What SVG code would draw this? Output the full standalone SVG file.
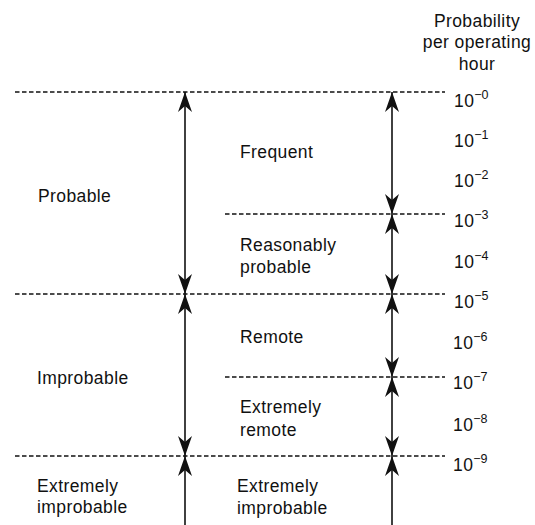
<svg xmlns="http://www.w3.org/2000/svg" width="535" height="525" viewBox="0 0 535 525">
<style>
text{font-family:"Liberation Sans",Arial,Helvetica,sans-serif;font-size:17.5px;fill:#111;letter-spacing:0.4px}
.sup{font-size:12.5px;letter-spacing:0}
.dash{stroke:#111;stroke-width:1.6;stroke-dasharray:4.5 2.5;fill:none}
.arr{stroke:#111;stroke-width:1.6;fill:none;marker-start:url(#ah);marker-end:url(#ah)}
.arr1{stroke:#111;stroke-width:1.6;fill:none;marker-start:url(#ah)}
</style>
<defs>
<marker id="ah" markerUnits="userSpaceOnUse" markerWidth="24" markerHeight="18" viewBox="-21 -9 24 18" refX="0" refY="0" orient="auto-start-reverse">
<path d="M0,0 L-20,-7 L-14,0 L-20,7 Z" fill="#111"/>
</marker>
</defs>
<g id="dashes">
<line class="dash" x1="15" y1="92" x2="445" y2="92"/>
<line class="dash" x1="225" y1="214" x2="445" y2="214"/>
<line class="dash" x1="15" y1="294" x2="445" y2="294"/>
<line class="dash" x1="225" y1="377" x2="445" y2="377"/>
<line class="dash" x1="15" y1="456" x2="445" y2="456"/>
</g>
<g id="connectors">
<line class="arr" x1="185" y1="92" x2="185" y2="294"/>
<line class="arr" x1="185" y1="294" x2="185" y2="456"/>
<line class="arr1" x1="185" y1="456" x2="185" y2="525"/>
<line class="arr" x1="392" y1="92" x2="392" y2="214"/>
<line class="arr" x1="392" y1="214" x2="392" y2="294"/>
<line class="arr" x1="392" y1="294" x2="392" y2="377"/>
<line class="arr" x1="392" y1="377" x2="392" y2="456"/>
<line class="arr1" x1="392" y1="456" x2="392" y2="525"/>
</g>
<g id="header">
<text x="477" y="27" text-anchor="middle">Probability</text>
<text x="477" y="48" text-anchor="middle">per operating</text>
<text x="477" y="70" text-anchor="middle">hour</text>
</g>
<g id="scale">
<text x="454" y="107">10<tspan class="sup" dy="-8">−0</tspan></text>
<text x="454" y="147">10<tspan class="sup" dy="-8">−1</tspan></text>
<text x="454" y="187">10<tspan class="sup" dy="-8">−2</tspan></text>
<text x="454" y="227">10<tspan class="sup" dy="-8">−3</tspan></text>
<text x="454" y="268">10<tspan class="sup" dy="-8">−4</tspan></text>
<text x="454" y="308">10<tspan class="sup" dy="-8">−5</tspan></text>
<text x="453" y="349">10<tspan class="sup" dy="-8">−6</tspan></text>
<text x="453" y="389">10<tspan class="sup" dy="-8">−7</tspan></text>
<text x="453" y="431">10<tspan class="sup" dy="-8">−8</tspan></text>
<text x="453" y="471">10<tspan class="sup" dy="-8">−9</tspan></text>
</g>
<g id="probable"><text x="38" y="202">Probable</text></g>
<g id="improbable"><text x="37" y="384">Improbable</text></g>
<g id="extremely-improbable-left"><text x="37" y="492">Extremely</text><text x="37" y="513">improbable</text></g>
<g id="frequent"><text x="240" y="158">Frequent</text></g>
<g id="reasonably-probable"><text x="240" y="251">Reasonably</text><text x="240" y="273">probable</text></g>
<g id="remote"><text x="240" y="343">Remote</text></g>
<g id="extremely-remote"><text x="240" y="413">Extremely</text><text x="240" y="436">remote</text></g>
<g id="extremely-improbable-right"><text x="237" y="492">Extremely</text><text x="237" y="514">improbable</text></g>
</svg>
